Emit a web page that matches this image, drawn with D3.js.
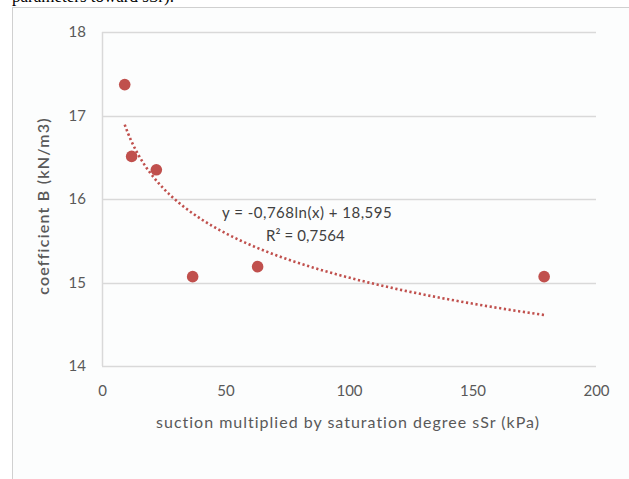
<!DOCTYPE html>
<html>
<head>
<meta charset="utf-8">
<script src="https://cdn.jsdelivr.net/npm/d3@7/dist/d3.min.js"></script>
<style>
  html, body { margin: 0; padding: 0; background: #ffffff; }
  svg { display: block; }
</style>
</head>
<body>
<svg id="chart" width="629" height="479"></svg>
<script>
// ---- data ----
const suction = [9.2, 12, 22, 36.7, 63, 179];
const coeffB = [17.37, 16.51, 16.35, 15.07, 15.19, 15.07];
const xTicks = [0, 50, 100, 150, 200];
const yTicks = [14, 15, 16, 17, 18];
const trendA = -0.768;
const trendB = 18.595;
const equationLines = ["y = -0,768ln(x) + 18,595", "R\u00b2 = 0,7564"];
const xTitle = "suction multiplied by saturation degree sSr (kPa)";
const yTitle = "coefficient B (kN/m3)";
const captionText = "parameters toward sSr).";

const svg = d3.select("#chart");
const W = 629, H = 479;
const FONT = "Lato, 'Open Sans', sans-serif";

// outer frame
svg.append("rect").attr("x", 12.5).attr("y", 7.5).attr("width", W).attr("height", H)
  .attr("fill", "#fcfdfd").attr("stroke", "#d0d0d0").attr("stroke-width", 1);

// cut-off caption text at top (cut off in the reference as well)
svg.append("text").attr("x", 12).attr("y", 1.5)
  .attr("font-family", "'Liberation Serif', serif").attr("font-size", 17)
  .attr("fill", "#000").text(captionText);

const x = d3.scaleLinear().domain([0, 200]).range([102, 596]);
const y = d3.scaleLinear().domain([14, 18]).range([366, 32]);

// gridlines
svg.append("g").selectAll("line").data(yTicks).join("line")
  .attr("x1", x(0)).attr("x2", x(200))
  .attr("y1", d => Math.round(y(d)) + 0.5).attr("y2", d => Math.round(y(d)) + 0.5)
  .attr("stroke", "#d9d9d9").attr("stroke-width", 1.3);

// left axis line
svg.append("line").attr("x1", 102.5).attr("x2", 102.5).attr("y1", y(18)).attr("y2", y(14))
  .attr("stroke", "#d9d9d9").attr("stroke-width", 1.5);

// y tick labels
const yAxis = d3.axisLeft(y).tickValues(yTicks).tickFormat(d3.format("d")).tickSize(0).tickPadding(16);
const gy = svg.append("g").attr("transform", "translate(102,0)").call(yAxis);
gy.select(".domain").remove();
gy.selectAll("text").attr("font-family", FONT).attr("font-size", 15).attr("fill", "#595959");

// x tick labels
const xAxis = d3.axisBottom(x).tickValues(xTicks).tickFormat(d3.format("d")).tickSize(0).tickPadding(19);
const gx = svg.append("g").attr("transform", "translate(0,366)").call(xAxis);
gx.select(".domain").remove();
gx.selectAll("text").attr("font-family", FONT).attr("font-size", 15).attr("fill", "#595959");

// axis titles
svg.append("text").attr("x", 348).attr("y", 428).attr("text-anchor", "middle")
  .attr("font-family", FONT).attr("font-size", 16).attr("letter-spacing", 1)
  .attr("fill", "#595959").text(xTitle);
svg.append("text").attr("transform", "translate(49,206) rotate(-90)").attr("text-anchor", "middle")
  .attr("font-family", FONT).attr("font-size", 16).attr("font-weight", 600)
  .attr("letter-spacing", 1.2).attr("fill", "#595959").text(yTitle);

// trendline
const xmin = d3.min(suction), xmax = d3.max(suction);
const trendPts = d3.range(0, 201).map(i => {
  const xv = xmin * Math.pow(xmax / xmin, i / 200);
  return [xv, trendA * Math.log(xv) + trendB];
});
svg.append("path").datum(trendPts)
  .attr("d", d3.line().x(d => x(d[0])).y(d => y(d[1])))
  .attr("fill", "none").attr("stroke", "#c0504d").attr("stroke-width", 2.6)
  .attr("stroke-dasharray", "2.2 2.6");

// points
svg.append("g").selectAll("circle").data(suction.map((s, i) => [s, coeffB[i]])).join("circle")
  .attr("cx", d => x(d[0])).attr("cy", d => y(d[1])).attr("r", 5.8)
  .attr("fill", "#c0504d");

// equation
svg.append("g").selectAll("text").data(equationLines).join("text")
  .attr("x", (d, i) => i === 0 ? 222 : 266)
  .attr("y", (d, i) => 218 + i * 23)
  .attr("font-family", FONT).attr("font-size", 15).attr("letter-spacing", (d, i) => i === 0 ? 0.5 : 0.1)
  .attr("fill", "#404040")
  .text(d => d);
</script>
</body>
</html>
